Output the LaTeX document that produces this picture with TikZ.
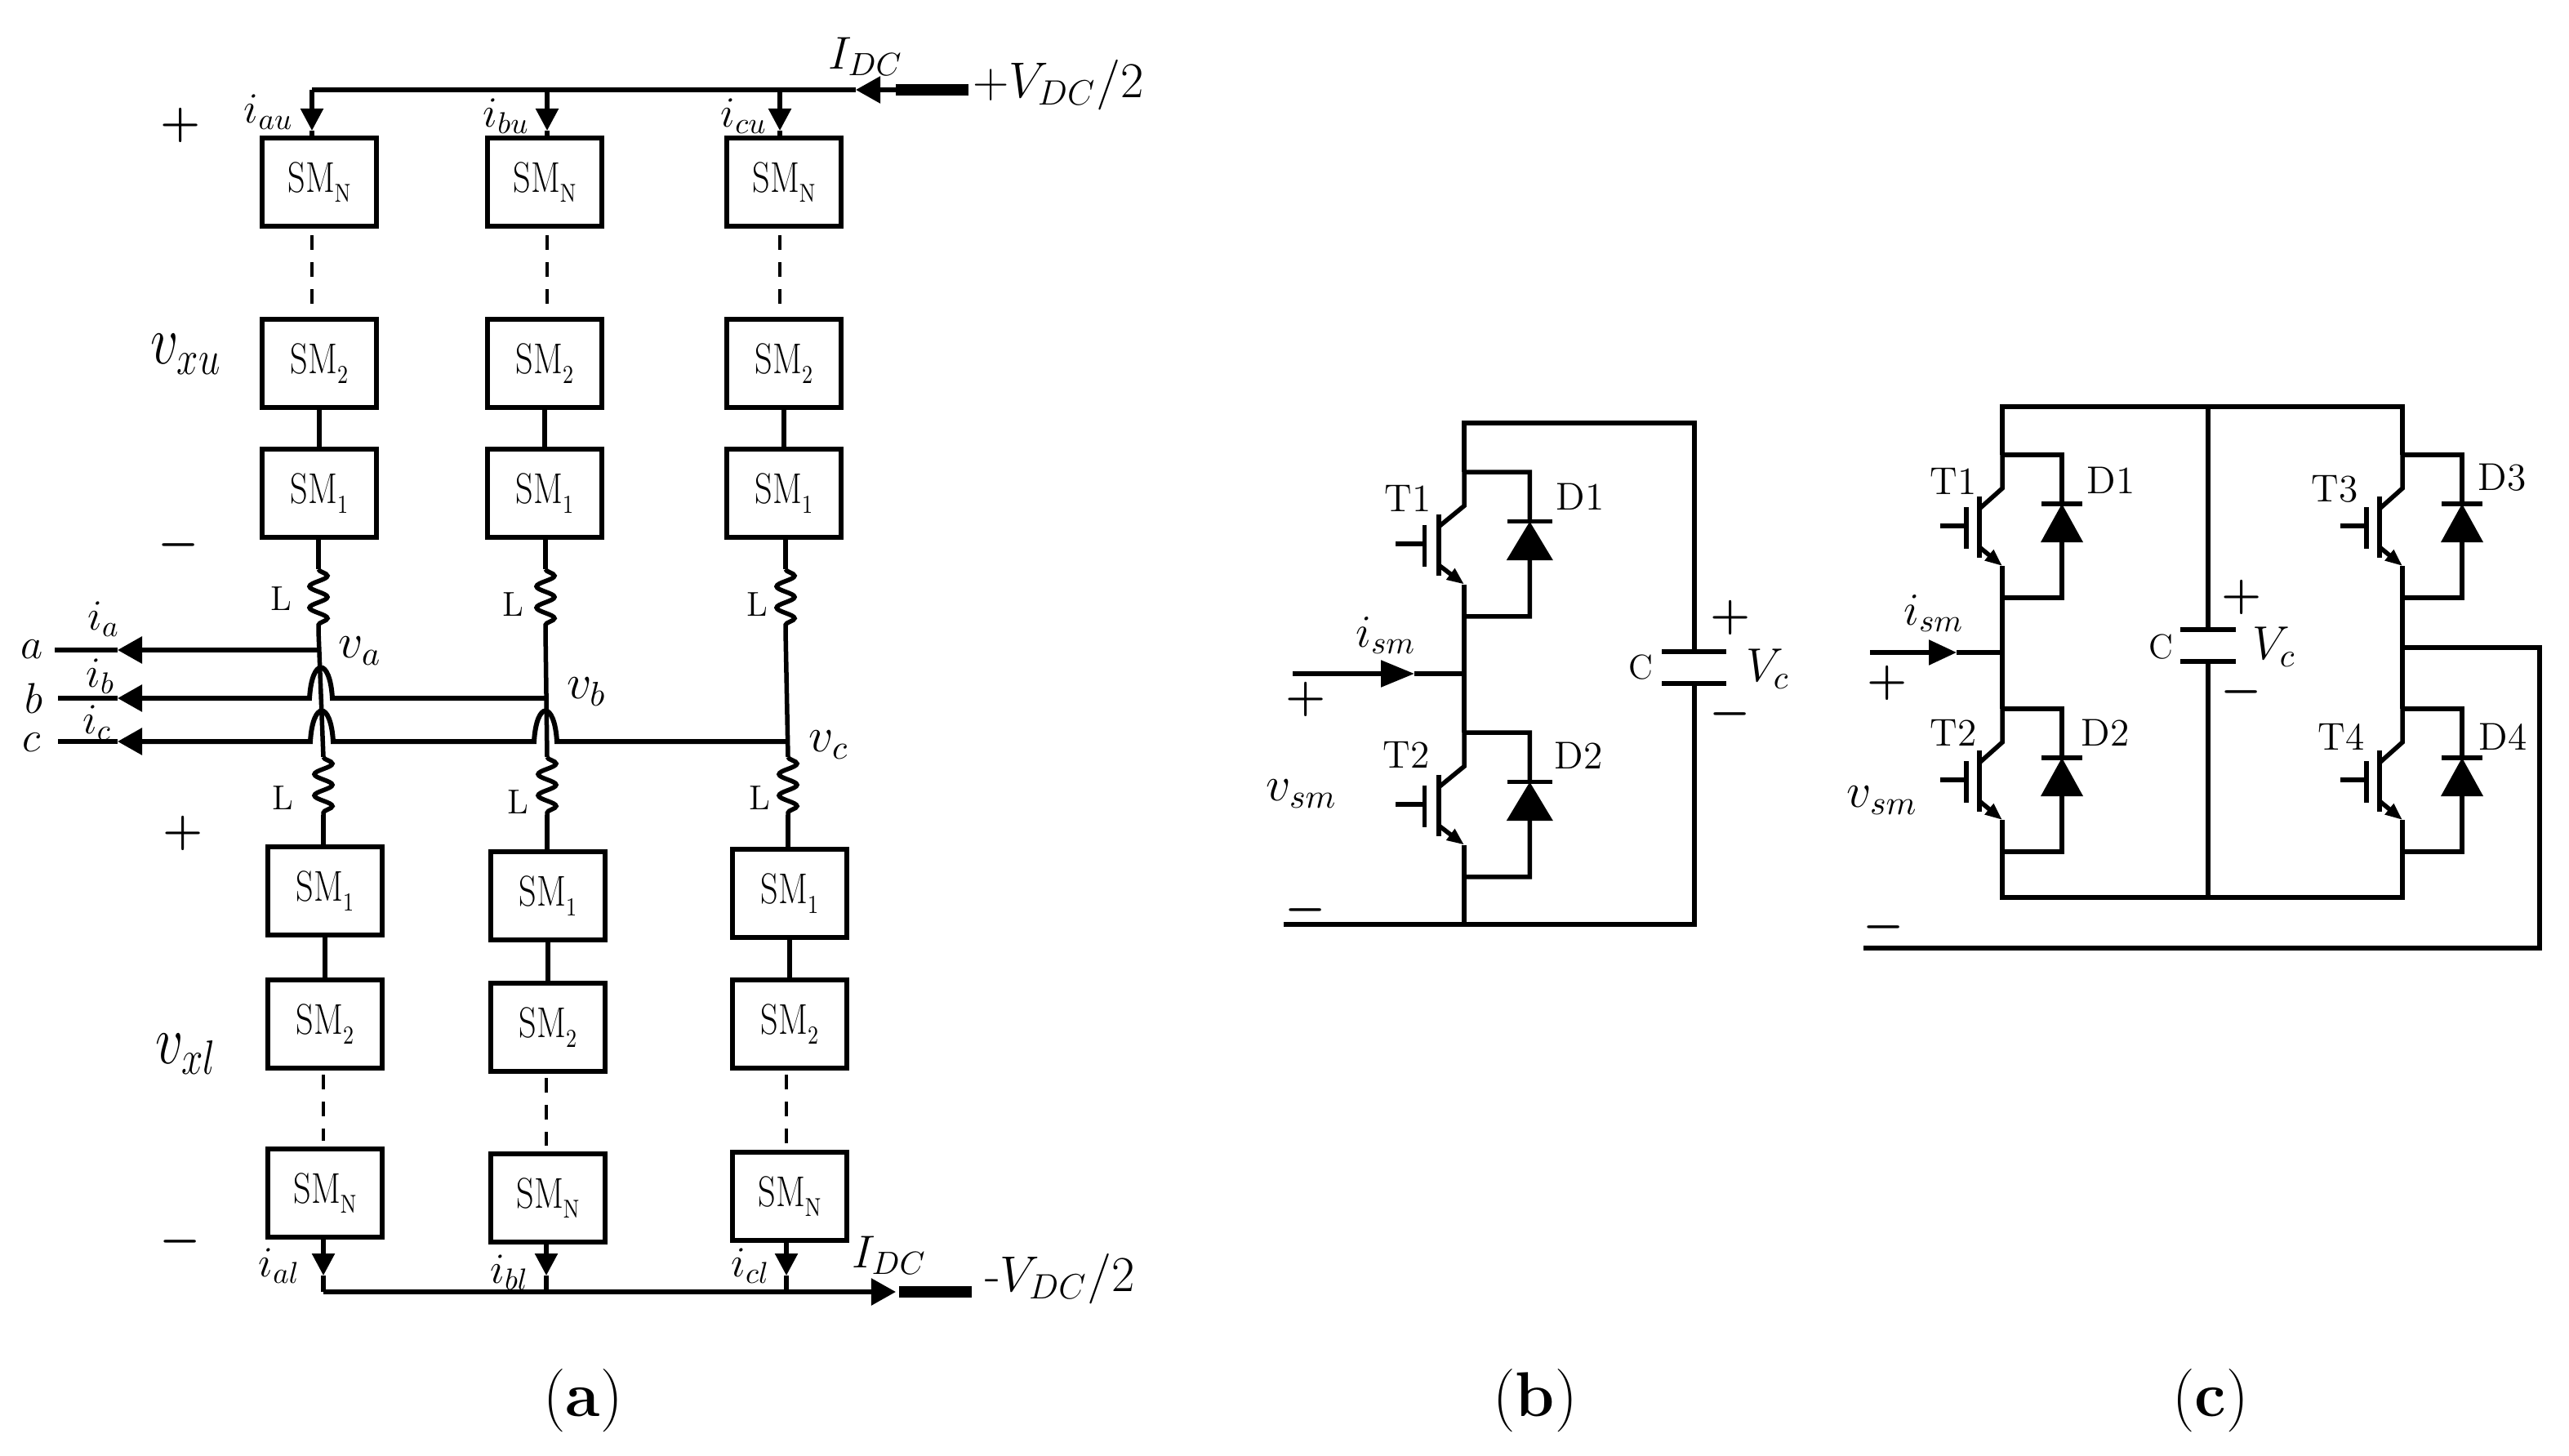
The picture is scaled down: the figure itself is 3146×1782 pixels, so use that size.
\documentclass[tikz,border=0pt]{standalone}
\usepackage{fix-cm}
\usetikzlibrary{arrows.meta,decorations.pathmorphing}
\newcommand{\fs}[1]{\fontsize{#1}{#1}\selectfont}
\newcommand{\smname}[1]{\scalebox{.8}[1]{SM}\raisebox{-.5ex}{\scalebox{.8}[1]{\fs{9}#1}}}
\newcommand{\arch}[2]{-- (#1+14,#2) .. controls (#1+11,#2-50) and (#1-11,#2-50) .. (#1-14,#2)}
\tikzset{
  swcell/.pic={
    \coordinate (-top) at (0,0);
    \coordinate (-bot) at (0,175);
    \coordinate (-dt) at (73,60);
    \coordinate (-db) at (73,107);
    \draw (-top) -- (73,0) -- (-dt);
    \draw (-db) -- (73,175) -- (-bot);
    \draw (-top) -- (0,41) -- (-28,66);
    \draw (-28,51) -- (-28,126);
    \draw (-44,64) -- (-44,115);
    \draw (-76,87) -- (-44,87);
    \draw [-{Triangle[length=.21cm,width=.16cm]}] (-28,113) -- (0,136);
    \draw (0,136) -- (-bot);
    \draw (48,60) -- (98,60);
    \fill (47,107) -- (99,107) -- (73,60) -- cycle;
  }
}
\begin{document}
\begin{tikzpicture}[x=.01cm, y=-.01cm, line width=.055cm]
\tikzstyle{every node} = [inner sep=0, outer sep=0]
\tikzstyle{smbox} = [draw, minimum width=1.4cm, minimum height=1.08cm, font=\fs{15}]
\tikzstyle{dots} = [dash pattern=on 5.1pt off 4.3pt, line width=.045cm]
\tikzstyle{coil} = [decorate, decoration={snake, segment length=.26cm, amplitude=.11cm}]
\tikzstyle{sign} = [font=\fs{16}\boldmath]
\tikzstyle{small} = [font=\fs{12}]
\tikzstyle{tag} = [font=\fs{13.5}]
\tikzstyle{cur} = [font=\fs{15}]
\tikzstyle{volt} = [font=\fs{17}]
\tikzstyle{big} = [font=\fs{24}]
\tikzstyle{captext} = [font=\fs{22}]
\tikzstyle{tipa} = [-{Triangle[length=.27cm,width=.27cm]}]
\tikzstyle{tipb} = [-{Triangle[length=.3cm,width=.32cm]}]
\useasboundingbox (0,0) rectangle (3146,1782);

% (a) upper arm
\foreach \c/\x/\t in {a/391/382,b/667/670,c/960/955} {
  \node [smbox] (\c uN) at (\x,223) {\smname{N}};
  \node [smbox] (\c u2) at (\x,445) {\smname{2}};
  \node [smbox] (\c u1) at (\x,604) {\smname{1}};
  \draw [dots, shorten <=.11cm, shorten >=.19cm] (\c uN.south -| \t,0) -- (\c u2.north -| \t,0);
  \draw (\c u2) -- (\c u1);
  \coordinate (t\c) at (\t,110);
  \coordinate (h\c) at (\t,160);
  \draw [tipa] (t\c) -- (h\c);
  \draw (h\c) -- (\c uN.north -| h\c);
}
% (a) lower arm
\foreach \c/\x/\p/\q/\r/\t in {a/398/1091/1254/1461/396,b/671/1097/1258/1467/669,c/967/1094/1254/1465/963} {
  \node [smbox] (\c l1) at (\x,\p) {\smname{1}};
  \node [smbox] (\c l2) at (\x,\q) {\smname{2}};
  \node [smbox] (\c lN) at (\x,\r) {\smname{N}};
  \draw (\c l1) -- (\c l2);
  \draw [dots, shorten <=.08cm, shorten >=.1cm] (\c l2.south -| \t,0) -- (\c lN.north -| \t,0);
  \coordinate (b\c) at (\t,1582);
  \coordinate (g\c) at (\t,1562);
  \draw [tipa] (\c lN.south -| g\c) -- (g\c);
  \draw (g\c) -- (b\c);
}
% (a) DC rails
\coordinate (pend) at (1186,110);
\coordinate (pstub) at (1097,110);
\coordinate (ptip) at (1048,110);
\draw [line width=.14cm] (pend) -- (pstub);
\draw [tipb] (pstub) -- (ptip);
\draw [line width=.065cm] (ptip) -- (ta);
\coordinate (mend) at (1190,1582);
\coordinate (mstub) at (1101,1582);
\coordinate (mtip) at (1097,1582);
\draw [line width=.14cm] (mend) -- (mstub);
\draw [line width=.065cm] (ba) -- (1069,1582);
\draw [tipb] (1064,1582) -- (mtip);

% (a) phase legs
\coordinate (va) at (390,796);
\coordinate (vb) at (668,855);
\coordinate (vc) at (962,908);
\foreach \c/\u/\l in {a/390/396,b/668/670,c/962/965} {
  \coordinate (ut\c) at (\u,697);
  \coordinate (ub\c) at (\u,773);
  \coordinate (lt\c) at (\l,927);
  \coordinate (lb\c) at (\l,998);
  \draw (\c u1.south -| ut\c) -- (ut\c);
  \draw [coil] (ut\c) -- (ub\c);
  \draw (ub\c) -- (lt\c);
  \draw [coil] (lt\c) -- (lb\c);
  \draw (lb\c) -- (\c l1.north -| lb\c);
}
\coordinate (at) at (144,796);
\coordinate (bt) at (144,855);
\coordinate (ct) at (144,908);
\coordinate (ae) at (67,796);
\coordinate (be) at (71,855);
\coordinate (ce) at (71,908);
\draw [tipb, line width=.06cm] (va) -- (at);
\draw [tipb, line width=.06cm] (vb) \arch{393}{855} -- (bt);
\draw [tipb, line width=.06cm] (vc) \arch{668}{908} \arch{394}{908} -- (ct);
\draw [line width=.06cm] (at) -- (ae);
\draw [line width=.06cm] (bt) -- (be);
\draw [line width=.06cm] (ct) -- (ce);

\node [cur] (iau) at (329,137) {$i_{au}$};
\node [cur] (ibu) at (620,142) {$i_{bu}$};
\node [cur] (icu) at (911,142) {$i_{cu}$};
\node [cur] (ial) at (342,1550) {$i_{al}$};
\node [cur] (ibl) at (624,1558) {$i_{bl}$};
\node [cur] (icl) at (919,1550) {$i_{cl}$};
\node [font=\fs{16}] (idcp) at (1060,69) {$I_{DC}$};
\node [font=\fs{16}] (idcm) at (1089,1537) {$I_{DC}$};
\node [font=\fs{17.5}] (vdcp) at (1296,104) {$+V_{DC}/2$};
\node [font=\fs{17.5}] (vdcm) at (1298,1566) {-$V_{DC}/2$};
\node [cur] (ia) at (127,758) {$i_a$};
\node [cur] (ib) at (123,828) {$i_b$};
\node [cur] (ic) at (119,885) {$i_c$};
\node [cur] (la) at (39,795) {$a$};
\node [cur] (lb) at (41,855) {$b$};
\node [cur] (lc) at (39,909) {$c$};
\node [volt] (nva) at (441,797) {$v_a$};
\node [volt] (nvb) at (718,847) {$v_b$};
\node [volt] (nvc) at (1015,912) {$v_c$};
\node [small] (lau) at (344,733) {L};
\node [small] (lbu) at (628,740) {L};
\node [small] (lcu) at (927,740) {L};
\node [small] (lal) at (346,977) {L};
\node [small] (lbl) at (634,982) {L};
\node [small] (lcl) at (930,977) {L};
\node [big] (vxu) at (228,434) {\scalebox{.8}[1]{$v_{xu}$}};
\node [big] (vxl) at (228,1291) {\scalebox{.8}[1]{$v_{xl}$}};
\node [sign] (pu) at (221,153) {$+$};
\node [sign] (mu) at (219,667) {$-$};
\node [sign] (pl) at (224,1020) {$+$};
\node [sign] (ml) at (221,1520) {$-$};
\node [captext] (capa) at (714,1715) {(\textbf{a})};

% (b) half bridge
\pic (b1) [xscale=1.1, yscale=1.011] at (1793,578) {swcell};
\pic (b2) [xscale=1.1, yscale=1.011] at (1793,897) {swcell};
\coordinate (btl) at (1793,518);
\coordinate (btr) at (2075,518);
\coordinate (bbr) at (2075,1132);
\coordinate (bbm) at (1793,1132);
\coordinate (bbl) at (1572,1132);
\coordinate (bin) at (1583,825);
\coordinate (bhd) at (1732,825);
\coordinate (bmid) at (1793,825);
\draw (b1-top) -- (btl) -- (btr) -- (2075,798);
\draw (2075,837) -- (bbr) -- (bbl);
\draw (b1-bot) -- (b2-top);
\draw (b2-bot) -- (bbm);
\draw [-{Triangle[length=.41cm,width=.32cm]}] (bin) -- (bhd);
\draw (bhd) -- (bmid);
\draw (2035,798) -- (2114,798);
\draw (2035,837) -- (2114,837);
\node [tag] (bt1) at (1724,610) {T1};
\node [tag] (bd1) at (1935,608) {D1};
\node [tag] (bt2) at (1722,924) {T2};
\node [tag] (bd2) at (1933,925) {D2};
\node [small] (bc) at (2009,817) {C};
\node [font=\fs{16.5}] (bvc) at (2165,819) {$V_c$};
\node [sign] (bcp) at (2119,756) {$+$};
\node [sign] (bcm) at (2119,874) {$-$};
\node [sign] (bp) at (1599,856) {$+$};
\node [sign] (bm) at (1599,1114) {$-$};
\node [font=\fs{16}] (bis) at (1697,778) {$i_{sm}$};
\node [volt] (bvs) at (1594,972) {$v_{sm}$};
\node [captext] (capb) at (1880,1715) {(\textbf{b})};

% (c) full bridge
\pic (c1) at (2452,557) {swcell};
\pic (c2) at (2452,868) {swcell};
\pic (c3) at (2942,557) {swcell};
\pic (c4) at (2942,868) {swcell};
\coordinate (ctl) at (2452,498);
\coordinate (ctm) at (2704,498);
\coordinate (ctr) at (2942,498);
\coordinate (cbl) at (2452,1099);
\coordinate (cbm) at (2704,1099);
\coordinate (cbr) at (2942,1099);
\coordinate (cin) at (2290,799);
\coordinate (chd) at (2396,799);
\coordinate (cmid) at (2452,799);
\coordinate (cout) at (2942,793);
\coordinate (cor1) at (3110,793);
\coordinate (cor2) at (3110,1161);
\coordinate (cend) at (2282,1161);
\draw (c1-top) -- (ctl) -- (ctr) -- (c3-top);
\draw (c1-bot) -- (c2-top);
\draw (c3-bot) -- (c4-top);
\draw (c2-bot) -- (cbl) -- (cbr) -- (c4-bot);
\draw (ctm) -- (2704,771);
\draw (2704,810) -- (cbm);
\draw (2670,771) -- (2738,771);
\draw (2670,810) -- (2738,810);
\draw [-{Triangle[length=.34cm,width=.3cm]}] (cin) -- (chd);
\draw (chd) -- (cmid);
\draw (cout) -- (cor1) -- (cor2) -- (cend);
\node [tag] (ct1) at (2392,589) {T1};
\node [tag] (cd1) at (2585,588) {D1};
\node [tag] (ct2) at (2392,897) {T2};
\node [tag] (cd2) at (2578,897) {D2};
\node [tag] (ct3) at (2859,599) {T3};
\node [tag] (cd3) at (3064,585) {D3};
\node [tag] (ct4) at (2867,902) {T4};
\node [tag] (cd4) at (3065,902) {D4};
\node [small] (cc) at (2646,792) {C};
\node [font=\fs{16.5}] (cvc) at (2785,792) {$V_c$};
\node [sign] (ccp) at (2745,731) {$+$};
\node [sign] (ccm) at (2745,847) {$-$};
\node [sign] (cp) at (2311,836) {$+$};
\node [sign] (cm) at (2307,1135) {$-$};
\node [font=\fs{16}] (cis) at (2368,751) {$i_{sm}$};
\node [volt] (cvs) at (2305,980) {$v_{sm}$};
\node [captext] (capc) at (2707,1715) {(\textbf{c})};
\end{tikzpicture}
\end{document}
